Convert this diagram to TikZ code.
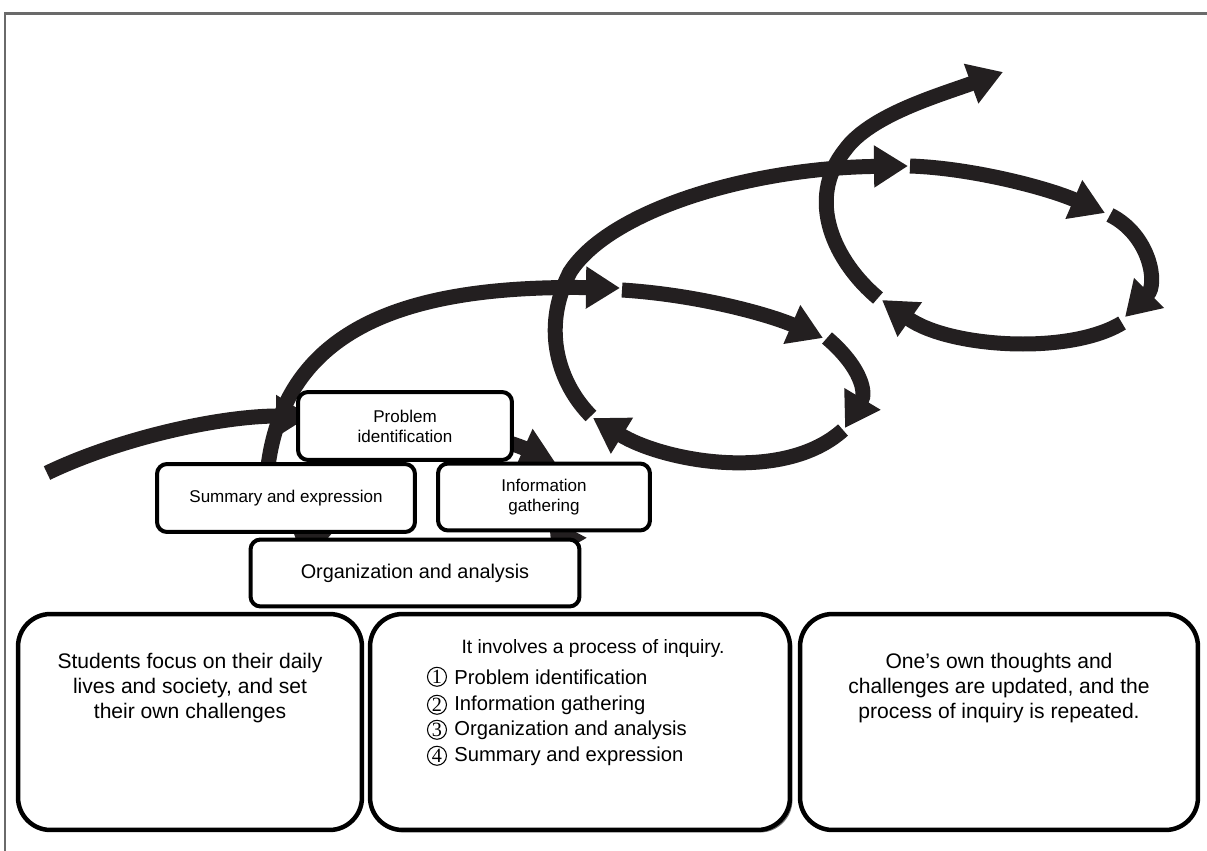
\documentclass[tikz,border=0pt]{standalone}
\usepackage{fontspec}
\setmainfont{Liberation Sans}
\newfontfamily\numfont{Liberation Serif}
\usetikzlibrary{arrows.meta,positioning,shadows}
\definecolor{arrowink}{HTML}{231F20}
\definecolor{framegray}{HTML}{6A6A6A}

\begin{document}
\begin{tikzpicture}[x=0.02cm, y=-0.02cm]
    % Styles for the spiral, the stage boxes and the notes
    \tikzset{
        spiral arrow/.style={arrowink, line width=0.3cm,
            -{Triangle[length=0.68cm, width=0.8cm]}},
        stage box/.style={draw, line width=0.08cm, rounded corners=0.2cm,
            fill=white, align=center, inner sep=0pt,
            font=\fontsize{9.7}{11.3}\selectfont},
        note box/.style={draw, line width=0.09cm, rounded corners=0.65cm,
            fill=white, minimum height=4.32cm},
        note text/.style={align=center, inner sep=0pt,
            font=\fontsize{12}{14.2}\selectfont},
        step num/.style={circle, draw, line width=0.6pt, inner sep=0pt,
            minimum size=0.38cm, font=\numfont\fontsize{11.5}{11.5}\selectfont},
        step text/.style={anchor=base west, inner sep=0pt,
            font=\fontsize{11.5}{14}\selectfont}
    }
    \useasboundingbox (0,0) rectangle (1207,851);

    % Page frame
    \draw[framegray, line width=0.06cm] (5,851) -- (5,14) -- (1207,14);

    % First loop, mostly behind the stage boxes
    \draw[spiral arrow] (47,473) .. controls (120,438) and (220,416) .. (310,416);
    \draw[spiral arrow] (305,418) .. controls (400,420) and (490,433) .. (555,462);
    \draw[spiral arrow] (560,468) .. controls (580,490) and (572,520) .. (552,558);
    \draw[spiral arrow] (545,563) .. controls (480,590) and (360,585) .. (292,528);

    % Second loop
    \draw[spiral arrow] (266,520) .. controls (258,335) and (390,285) .. (620,288);
    \draw[spiral arrow] (622,290) .. controls (700,295) and (770,315) .. (823,338);
    \draw[spiral arrow] (827,338) .. controls (862,368) and (866,393) .. (845,428);
    \draw[spiral arrow] (843,430) .. controls (783,484) and (663,461) .. (593,418);

    % Third loop
    \draw[spiral arrow] (591,416) .. controls (560,385) and (540,330) .. (570,272)
                                  .. controls (610,210) and (750,168) .. (908,166);
    \draw[spiral arrow] (910,166) .. controls (970,168) and (1045,187) .. (1105,213);
    \draw[spiral arrow] (1110,215) .. controls (1150,235) and (1158,284) .. (1125,317);
    \draw[spiral arrow] (1122,323) .. controls (1070,355) and (950,348) .. (882,300);

    % Way out of the spiral
    \draw[spiral arrow] (878,298) .. controls (835,262) and (805,200) .. (845,150)
                                  .. controls (870,115) and (940,95) .. (1003,72);

    % Stages of inquiry
    \node[stage box, minimum width=4.28cm, minimum height=1.36cm] (ident) at (405,426) {Problem\\identification};
    \node[stage box, minimum width=5.16cm, minimum height=1.36cm] (summ) at (286,498) {Summary and expression};
    \node[stage box, minimum width=4.24cm, minimum height=1.34cm] (info) at (544,497) {Information\\gathering};
    \node[stage box, minimum width=6.58cm, minimum height=1.34cm,
          font=\fontsize{11.3}{13}\selectfont] (org) at (415,573) {Organization and analysis};

    % Notes
    \node[note box, minimum width=6.88cm] (focus) at (190,722) {};
    \node[note box, minimum width=8.4cm,
          drop shadow={shadow xshift=0.05cm, shadow yshift=-0.05cm, opacity=1, fill=black!55}] (process) at (580,722) {};
    \node[note box, minimum width=7.96cm] (update) at (999,722) {};

    \node[note text] (focustxt) at (190,688) {Students focus on their daily\\lives and society, and set\\their own challenges};
    \node[note text] (updatetxt) at (999,688) {One's own thoughts and\\challenges are updated, and the\\process of inquiry is repeated.};

    \node[inner sep=0pt, font=\fontsize{11}{13}\selectfont] (proctitle) at (593,648) {It involves a process of inquiry.};
    \node[step text] (t1) at (454,684) {Problem identification};
    \node[step text] (t2) at (454,710) {Information gathering};
    \node[step text] (t3) at (454,735) {Organization and analysis};
    \node[step text] (t4) at (454,761) {Summary and expression};
    \node[step num, left=0.14cm of t1] (n1) {1};
    \node[step num, left=0.14cm of t2] (n2) {2};
    \node[step num, left=0.14cm of t3] (n3) {3};
    \node[step num, left=0.14cm of t4] (n4) {4};
\end{tikzpicture}
\end{document}
